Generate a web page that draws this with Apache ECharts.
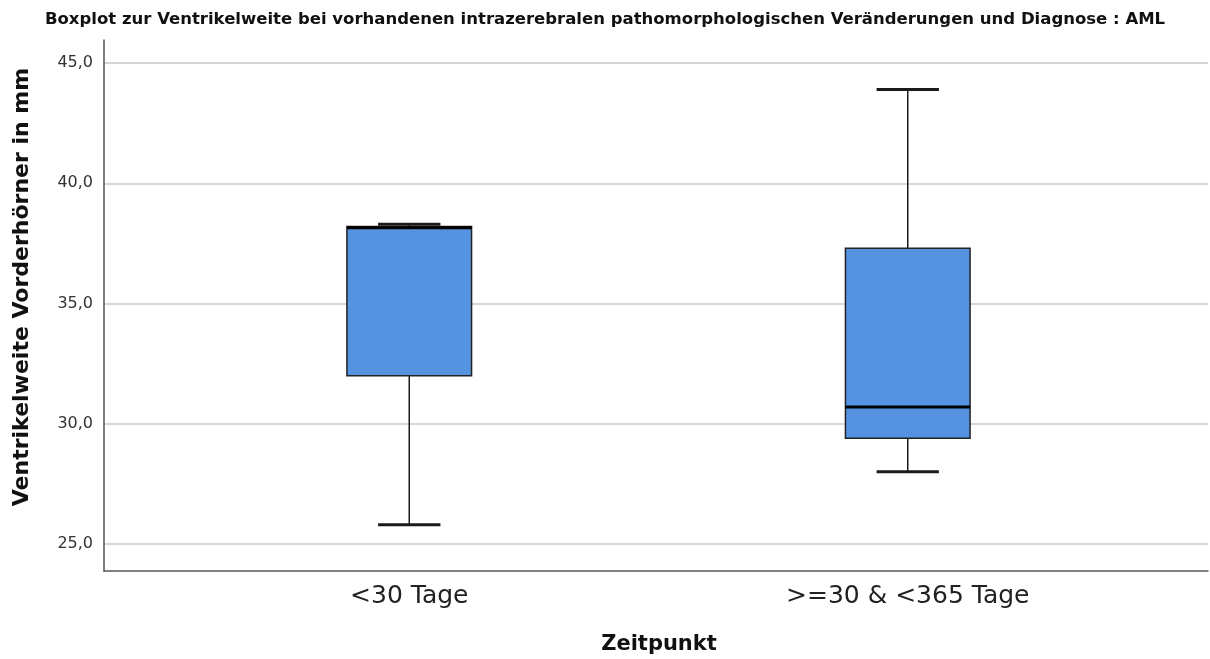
<!DOCTYPE html>
<html>
<head>
<meta charset="utf-8">
<script src="https://cdn.jsdelivr.net/npm/echarts@6/dist/echarts.min.js"></script>
<style>
  html, body { margin: 0; padding: 0; background: #fff; }
  #chart { width: 1210px; height: 659px; }
</style>
</head>
<body>
<div id="chart"></div>
<script>
// Zeitpunkt categories and five-number summaries (mm)
const categories = ['<30 Tage', '>=30 & <365 Tage'];
const whiskerLow = [25.8, 28.0];
const q1 = [32.0, 29.4];
const median = [38.15, 30.7];
const q3 = [38.2, 37.3];
const whiskerHigh = [38.3, 43.9];
const yTicks = [25, 30, 35, 40, 45];

const boxData = categories.map((c, i) => [i, whiskerLow[i], q1[i], median[i], q3[i], whiskerHigh[i]]);

const FONT = '"DejaVu Sans", sans-serif';

function renderBox(params, api) {
  const idx = api.value(0);
  const lo = api.coord([idx, api.value(1)]);
  const b1 = api.coord([idx, api.value(2)]);
  const md = api.coord([idx, api.value(3)]);
  const b3 = api.coord([idx, api.value(4)]);
  const hi = api.coord([idx, api.value(5)]);
  const band = api.size([1, 0])[0];
  const bw = band * 0.25;
  const cw = bw * 0.5;
  const cx = lo[0];
  const dark = '#1a1a1a';
  return {
    type: 'group',
    children: [
      { type: 'line', shape: { x1: cx, y1: hi[1], x2: cx, y2: b3[1] }, style: { stroke: dark, lineWidth: 1.5 } },
      { type: 'line', shape: { x1: cx, y1: b1[1], x2: cx, y2: lo[1] }, style: { stroke: dark, lineWidth: 1.5 } },
      { type: 'line', shape: { x1: cx - cw / 2, y1: hi[1], x2: cx + cw / 2, y2: hi[1] }, style: { stroke: dark, lineWidth: 3 } },
      { type: 'line', shape: { x1: cx - cw / 2, y1: lo[1], x2: cx + cw / 2, y2: lo[1] }, style: { stroke: dark, lineWidth: 3 } },
      { type: 'rect', shape: { x: cx - bw / 2, y: b3[1], width: bw, height: b1[1] - b3[1] },
        style: { fill: '#5592e0', stroke: '#222', lineWidth: 1.5 } },
      { type: 'line', shape: { x1: cx - bw / 2, y1: md[1], x2: cx + bw / 2, y2: md[1] }, style: { stroke: '#000', lineWidth: 3 } }
    ]
  };
}

const chart = echarts.init(document.getElementById('chart'), null, { renderer: 'canvas' });
chart.setOption({
  animation: false,
  backgroundColor: '#fff',
  title: {
    text: 'Boxplot zur Ventrikelweite bei vorhandenen intrazerebralen pathomorphologischen Veränderungen und Diagnose : AML',
    left: 'center', top: 6,
    textStyle: { fontFamily: FONT, fontSize: 16.5, fontWeight: 'bold', color: '#111' }
  },
  grid: [
    // frame with axis lines
    { left: 104, right: 2, top: 40, bottom: 88 },
    // value scale with grid lines and tick labels
    { left: 104, right: 2, top: 63, bottom: 115 },
    // boxes
    { left: 160, right: 53, top: 63, bottom: 115 }
  ],
  xAxis: [
    { gridIndex: 0, type: 'value', min: 0, max: 1, axisLine: { show: true, lineStyle: { color: '#555', width: 1.5 } },
      axisTick: { show: false }, axisLabel: { show: false }, splitLine: { show: false } },
    { gridIndex: 1, type: 'value', min: 0, max: 1, show: false },
    { gridIndex: 2, type: 'category', data: categories,
      axisLine: { show: false }, axisTick: { show: false }, splitLine: { show: false },
      axisLabel: { margin: 40, fontFamily: FONT, fontSize: 25, color: '#222' } }
  ],
  yAxis: [
    { gridIndex: 0, type: 'value', min: 0, max: 1, axisLine: { show: true, lineStyle: { color: '#555', width: 1.5 } },
      axisTick: { show: false }, axisLabel: { show: false }, splitLine: { show: false } },
    { gridIndex: 1, type: 'value', min: 25, max: 45, interval: 5,
      axisLine: { show: false }, axisTick: { show: false },
      axisLabel: { margin: 11, fontFamily: FONT, fontSize: 16, color: '#333',
        formatter: v => yTicks.includes(v) ? v.toFixed(1).replace('.', ',') : '' },
      splitLine: { show: true, lineStyle: { color: '#c8c8c8', width: 1.5 } } },
    { gridIndex: 2, type: 'value', min: 25, max: 45, show: false }
  ],
  graphic: [
    { type: 'text', x: 22, y: 287, rotation: Math.PI / 2,
      style: { text: 'Ventrikelweite Vorderhörner in mm', fontFamily: FONT,
        fontSize: 22, fontWeight: 'bold', fill: '#111', align: 'center', verticalAlign: 'middle' } },
    { type: 'text', x: 659, y: 645,
      style: { text: 'Zeitpunkt', fontFamily: FONT, fontSize: 21, fontWeight: 'bold', fill: '#111',
        align: 'center', verticalAlign: 'middle' } }
  ],
  series: [{
    type: 'custom',
    xAxisIndex: 2, yAxisIndex: 2,
    renderItem: renderBox,
    encode: { x: 0, y: [1, 2, 3, 4, 5] },
    data: boxData
  }]
});
</script>
</body>
</html>
